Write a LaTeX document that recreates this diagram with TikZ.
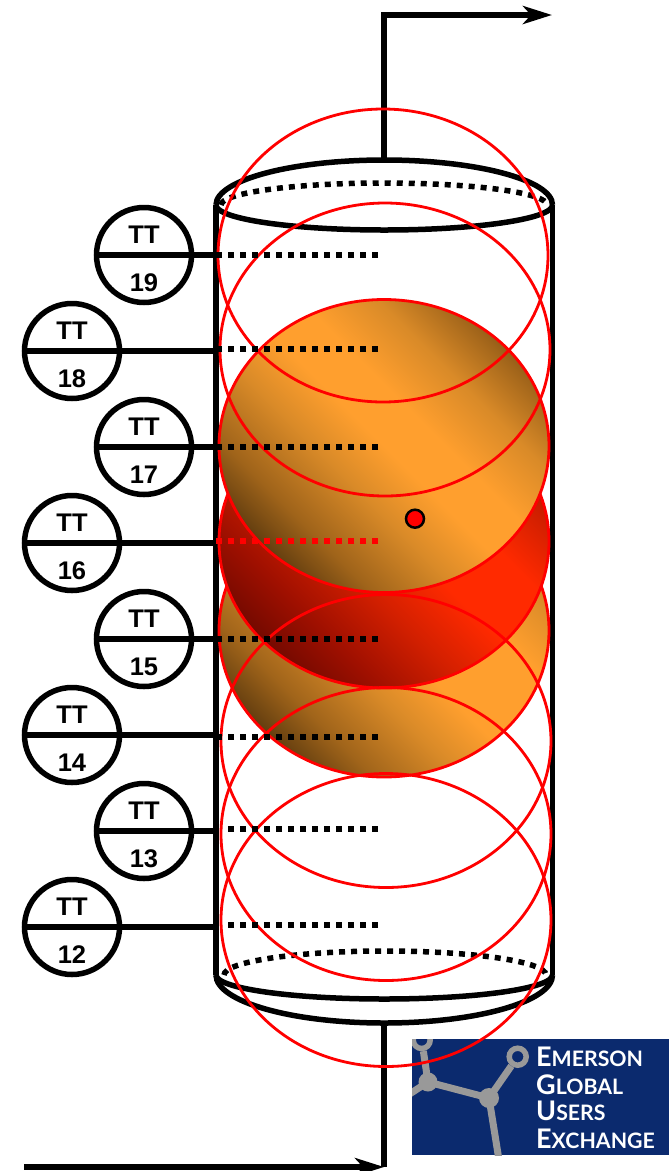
\documentclass[tikz,border=0pt]{standalone}
\usepackage{fontspec}
\setmainfont{Liberation Sans}
\newfontfamily\logofont{Lato}
\usetikzlibrary{arrows.meta}
\definecolor{orangeA}{HTML}{FF9F2E}
\definecolor{orangeB}{HTML}{D98A28}
\definecolor{orangeD}{HTML}{3A2408}
\definecolor{orangeE}{HTML}{5E3A0E}
\definecolor{orangeF}{HTML}{A0641A}
\definecolor{redA}{HTML}{FF2A00}
\definecolor{redB}{HTML}{D42000}
\definecolor{redD}{HTML}{5A0500}
\definecolor{redE}{HTML}{A01000}
\definecolor{logoblue}{HTML}{0B2A6E}
\definecolor{logogray}{HTML}{999999}
\pgfdeclarehorizontalshading{orangetop}{100bp}{color(0bp)=(orangeD);color(20bp)=(orangeD);color(32bp)=(orangeF);color(42bp)=(orangeB);color(50bp)=(orangeA);color(57bp)=(orangeA);color(66bp)=(orangeB);color(74bp)=(orangeF);color(81bp)=(orangeE);color(100bp)=(orangeE)}
\pgfdeclarehorizontalshading{orangelow}{100bp}{color(0bp)=(orangeD);color(20bp)=(orangeD);color(32bp)=(orangeF);color(42bp)=(orangeB);color(50bp)=(orangeA);color(63bp)=(orangeA);color(72bp)=(orangeB);color(82bp)=(orangeF);color(100bp)=(orangeF)}
\pgfdeclarehorizontalshading{redmid}{100bp}{color(0bp)=(redD);color(20bp)=(redD);color(33bp)=(redE);color(43bp)=(redB);color(52bp)=(redA);color(62bp)=(redA);color(70bp)=(redB);color(80bp)=(redE);color(100bp)=(redE)}
\tikzset{
  x=1pt,y=-1pt,
  tank/.style={line width=5.5pt,black},
  pipe/.style={line width=5.5pt,black},
  flow/.style={pipe,-{Stealth[length=29pt,width=18pt,inset=8pt]}},
  dotrow/.style={line width=6pt,dash pattern=on 6pt off 6pt},
  dotarc/.style={line width=5.5pt,dash pattern=on 6pt off 6pt},
  bubble/.style={red,line width=2.8pt},
  ttcircle/.style={circle,draw=black,line width=5.5pt,minimum size=95pt,inner sep=0pt,outer sep=0pt},
  ttlabel/.style={anchor=base,inner sep=0pt,font=\bfseries\fontsize{25.5}{25.5}\selectfont},
  logotxt/.style={anchor=base west,inner sep=0pt,text=white,font=\logofont\bfseries},
  logoline/.style={logogray,line width=7pt},
  logohub/.style={circle,fill=logogray,inner sep=0pt},
  logoring/.style={circle,draw=logogray,line width=5.5pt,inner sep=0pt,minimum size=17pt},
}
\newcommand{\lcap}[2]{{\fontsize{27}{27}\selectfont #1}{\fontsize{21.3}{21.3}\selectfont #2}}
\begin{document}
\begin{tikzpicture}
\useasboundingbox (0,0) rectangle (671,1171);
% tank
\draw[tank] (216,205) -- (216,975);
\draw[tank] (552.5,205) -- (552.5,975);
\coordinate (topcap) at (384,160);
\coordinate (botcap) at (384,1023);
\draw[tank] (216,205) arc[start angle=180,end angle=360,x radius=168.25,y radius=45];
\draw[tank] (216,205) arc[start angle=180,end angle=0,x radius=168.25,y radius=25];
\draw[dotarc] (221,205) arc[start angle=180,end angle=360,x radius=163,y radius=22];
\draw[dotarc] (224,975) arc[start angle=180,end angle=360,x radius=161,y radius=24];
\draw[tank] (216,975) arc[start angle=180,end angle=0,x radius=168.25,y radius=24];
\draw[tank] (216,975) arc[start angle=180,end angle=0,x radius=168.25,y radius=48];
% pipes
\coordinate (outcorner) at (384,15);
\coordinate (outend) at (552,15);
\coordinate (incorner) at (384,1167);
\coordinate (instart) at (24,1167);
\draw[flow] (topcap) -- (outcorner) -- (outend);
\draw[flow] (instart) -- (incorner);
\draw[pipe] (botcap) -- (incorner);
% bubbles
\path[shading=orangelow,shading angle=45] (384,630.5) ellipse[x radius=165,y radius=146.5];
\draw[bubble] (384,630.5) ellipse[x radius=165,y radius=146.5];
\path[shading=redmid,shading angle=45] (384,541.5) ellipse[x radius=165,y radius=146.5];
\draw[bubble] (384,541.5) ellipse[x radius=165,y radius=146.5];
\path[shading=orangetop,shading angle=45] (384,446) ellipse[x radius=165,y radius=146.5];
\draw[bubble] (384,446) ellipse[x radius=165,y radius=146.5];
\draw[bubble] (383,255.5) ellipse[x radius=165,y radius=146.5];
\draw[bubble] (385,349.5) ellipse[x radius=165,y radius=146.5];
\draw[bubble] (386,741) ellipse[x radius=165,y radius=146.5];
\draw[bubble] (386,834) ellipse[x radius=165,y radius=146.5];
\draw[bubble] (386,920) ellipse[x radius=165,y radius=146.5];
% marker
\node[circle,fill=red,draw=black,line width=2.5pt,minimum size=18pt,inner sep=0pt] (marker) at (415,518.7) {};
% dotted rows
\foreach \yy/\xs/\col in {255/216/black,349/216/black,447/216/black,541/216/red,639/216/black,737/216/black,829/228/black,925/228/black}{
  \coordinate (da) at (378,\yy);
  \coordinate (db) at (\xs,\yy);
  \draw[dotrow,\col] (da) -- (db);
}
% transmitters
\foreach \cx/\cy/\num in {144/255/19,72/351/18,144/447/17,72/543/16,144/639/15,72/735/14,144/831/13,72/927/12}{
  \node[ttcircle] (tt\num) at (\cx,\cy) {};
  \coordinate (wall\num) at (216,\cy);
  \draw[pipe] (tt\num.west) -- (tt\num.east) -- (wall\num);
  \node[ttlabel] (tta\num) at (\cx,\cy-12) {TT};
  \node[ttlabel] (ttb\num) at (\cx,\cy+36) {\num};
}
% logo
\fill[logoblue] (412,1039) rectangle (669,1155);
\begin{scope}
\clip (412,1039) rectangle (669,1155);
\coordinate (hubA) at (428,1082);
\coordinate (hubB) at (489,1098);
\node[logoring] (ringA) at (517.7,1056.7) {};
\node[logoring] (ringB) at (421.7,1040) {};
\coordinate (leftend) at (405,1097);
\coordinate (botend) at (499,1160);
\draw[logoline] (leftend) -- (hubA);
\draw[logoline] (hubA) -- (hubB);
\draw[logoline] (hubA) -- (ringB);
\draw[logoline] (hubB) -- (ringA);
\draw[logoline] (hubB) -- (botend);
\node[logohub,minimum size=19pt] at (hubA) {};
\node[logohub,minimum size=20pt] at (hubB) {};
\draw[bubble] (386,920) ellipse[x radius=165,y radius=146.5];
\end{scope}
\node[logotxt] (l1) at (536,1066) {\lcap{E}{MERSON}};
\node[logotxt] (l2) at (536,1094) {\lcap{G}{LOBAL}};
\node[logotxt] (l3) at (536,1120.5) {\lcap{U}{SERS}};
\node[logotxt] (l4) at (536,1148) {\lcap{E}{XCHANGE}};
\end{tikzpicture}
\end{document}
